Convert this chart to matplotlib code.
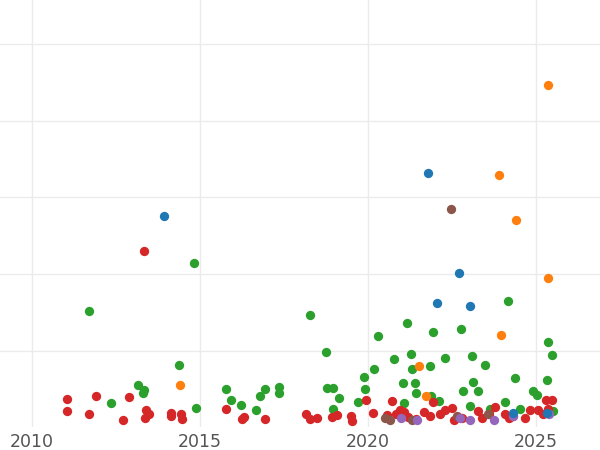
import matplotlib
matplotlib.use("Agg")
import matplotlib.pyplot as plt

# values (year, value)
green_x = [2011.70, 2014.82, 2018.27, 2018.75, 2020.30, 2021.16, 2021.93, 2022.77, 2024.17, 2025.36,
           2025.48, 2014.38, 2013.15, 2013.33, 2013.30, 2012.35, 2014.88, 2015.77, 2015.92, 2016.22,
           2016.67, 2016.79, 2016.93, 2017.35, 2017.35, 2018.78, 2018.96, 2018.96, 2019.14, 2019.88,
           2019.91, 2020.18, 2020.77, 2021.04, 2021.28, 2021.31, 2021.40, 2021.85, 2022.29, 2022.83,
           2023.10, 2023.13, 2023.27, 2023.48, 2024.38, 2024.52, 2024.91, 2025.03, 2025.33, 2025.51,
           2021.07, 2021.43, 2021.88, 2022.11, 2023.04, 2023.63, 2024.08, 2019.70]
green_y = [1.52, 2.14, 1.46, 0.98, 1.19, 1.36, 1.24, 1.28, 1.65, 1.11,
           0.94, 0.81, 0.55, 0.48, 0.44, 0.31, 0.25, 0.50, 0.35, 0.29,
           0.22, 0.41, 0.50, 0.52, 0.44, 0.51, 0.51, 0.24, 0.38, 0.65,
           0.50, 0.76, 0.89, 0.58, 0.95, 0.76, 0.58, 0.80, 0.90, 0.47,
           0.93, 0.59, 0.47, 0.81, 0.64, 0.24, 0.47, 0.42, 0.61, 0.21,
           0.31, 0.44, 0.41, 0.34, 0.27, 0.24, 0.33, 0.33]

red_x = [2013.33, 2011.04, 2011.04, 2011.70, 2011.90, 2012.71, 2012.89, 2013.39, 2013.48, 2013.36,
         2014.14, 2014.14, 2014.43, 2014.46, 2015.77, 2016.25, 2016.31, 2016.93, 2018.15, 2018.27,
         2018.48, 2018.93, 2019.08, 2019.49, 2019.52, 2019.94, 2020.15, 2020.57, 2020.71, 2020.83,
         2020.95, 2021.07, 2021.19, 2021.43, 2021.67, 2021.85, 2021.93, 2022.14, 2022.29, 2022.50,
         2022.56, 2022.80, 2023.27, 2023.39, 2023.60, 2023.78, 2024.08, 2024.20, 2024.32, 2024.67,
         2024.82, 2025.06, 2025.21, 2025.36, 2025.48, 2025.30]
red_y = [2.30, 0.37, 0.21, 0.17, 0.41, 0.09, 0.39, 0.22, 0.17, 0.12,
         0.18, 0.14, 0.17, 0.10, 0.24, 0.10, 0.13, 0.10, 0.17, 0.10,
         0.12, 0.13, 0.16, 0.14, 0.08, 0.35, 0.18, 0.16, 0.34, 0.17,
         0.22, 0.20, 0.13, 0.10, 0.20, 0.14, 0.33, 0.17, 0.22, 0.25,
         0.09, 0.12, 0.21, 0.12, 0.17, 0.26, 0.17, 0.12, 0.14, 0.12,
         0.22, 0.22, 0.17, 0.24, 0.35, 0.35]

blue_x = [2021.79, 2013.93, 2022.71, 2022.05, 2023.04, 2025.33, 2024.32]
blue_y = [3.32, 2.76, 2.01, 1.62, 1.58, 0.18, 0.18]

brown_x = [2022.47, 2020.51, 2020.65, 2021.31, 2022.65, 2023.57]
brown_y = [2.85, 0.12, 0.09, 0.09, 0.14, 0.17]

purple_x = [2020.98, 2021.46, 2022.74, 2023.04, 2023.75, 2024.32, 2025.39]
purple_y = [0.12, 0.09, 0.12, 0.09, 0.09, 0.14, 0.17]

orange_x = [2025.36, 2023.90, 2024.40, 2025.36, 2023.96, 2014.40, 2021.73, 2021.52]
orange_y = [4.47, 3.29, 2.71, 1.95, 1.20, 0.55, 0.41, 0.80]

series = [
    (green_x, green_y, "#2ca02c"),
    (red_x, red_y, "#d62728"),
    (brown_x, brown_y, "#8c564b"),
    (purple_x, purple_y, "#9467bd"),
    (blue_x, blue_y, "#1f77b4"),
    (orange_x, orange_y, "#ff7f0e"),
]

fig = plt.figure(figsize=(6, 4.5), dpi=100)
ax = fig.add_axes([0, 0.051, 1, 0.949])
for xs, ys, c in series:
    ax.scatter(xs, ys, s=45, color=c, linewidths=0, zorder=3)

ax.set_xlim(2009.05, 2026.9)
ax.set_ylim(0, 5.58)
ax.set_xticks([2010, 2015, 2020, 2025])
ax.set_yticks([1, 2, 3, 4, 5])
ax.set_yticklabels([])
ax.grid(True, color="#ebebeb", linewidth=1, zorder=0)
for s in ax.spines.values():
    s.set_visible(False)
ax.tick_params(axis="both", length=0, labelsize=12.5, labelcolor="#555555", pad=4)

fig.savefig("out.png", dpi=100)
